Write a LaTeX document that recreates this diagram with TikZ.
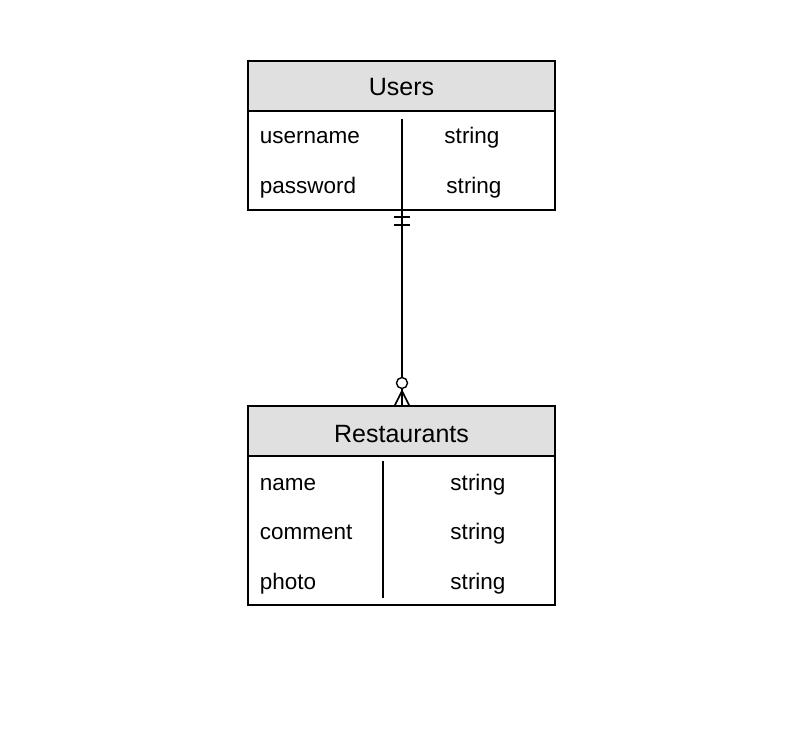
\documentclass[tikz,border=0pt]{standalone}
\usepackage{fontspec}
\setmainfont{Liberation Sans}
\definecolor{hdr}{HTML}{E0E0E0}
\begin{document}
\begin{tikzpicture}[x=1pt,y=-1pt,
  line width=1.6pt,
  tbl/.style={draw, rectangle, inner sep=0pt, minimum width=307pt},
  hdrbox/.style={draw, fill=hdr, rectangle, inner sep=0pt, minimum width=307pt, minimum height=50pt, font=\fontsize{25}{28}\selectfont},
  fld/.style={anchor=base west, inner sep=0pt, font=\fontsize{22.5}{26}\selectfont},
  typ/.style={anchor=base, inner sep=0pt, font=\fontsize{22.5}{26}\selectfont}]
\useasboundingbox (0,0) rectangle (792,743);
% Users
\node[tbl, minimum height=149pt] (users) at (401.5,135.5) {};
\node[hdrbox] (usersh) at (401.5,86) {};
\node[anchor=base, inner sep=0pt, font=\fontsize{25}{28}\selectfont] (usersl) at (401.5,96) {Users};
\coordinate (ud1) at (402,119);
\draw (ud1) -- (ud1 |- users.south);
\node[fld] (u1) at (259,144) {username};
\node[fld] (u2) at (259,194) {password};
\node[typ] (u1t) at (472,144) {string};
\node[typ] (u2t) at (474,194) {string};
% Restaurants
\node[tbl, minimum height=199pt] (rest) at (401.5,505.5) {};
\node[hdrbox] (resth) at (401.5,431) {};
\node[anchor=base, inner sep=0pt, font=\fontsize{25}{28}\selectfont] (restl) at (401.5,442) {Restaurants};
\coordinate (rd1) at (383,461);
\coordinate (rd2) at (383,598);
\draw (rd1) -- (rd2);
\node[fld] (r1) at (259,490) {name};
\node[fld] (r2) at (259,539) {comment};
\node[fld] (r3) at (259,589) {photo};
\node[typ] (r1t) at (478,490) {string};
\node[typ] (r2t) at (478,539) {string};
\node[typ] (r3t) at (478,589) {string};
% connector
\coordinate (cs) at (402,210);
\coordinate (ce) at (402,406);
\coordinate (cc) at (402,383);
\draw (cs) -- ([yshift=5.5pt]cc);
\draw (394,217) -- (410,217);
\draw (394,225) -- (410,225);
\draw[line width=1.4pt] (cc) circle (5.5);
\draw (402,388.5) -- (ce);
\draw (402,391) -- (394.5,406);
\draw (402,391) -- (409.5,406);
\end{tikzpicture}
\end{document}
